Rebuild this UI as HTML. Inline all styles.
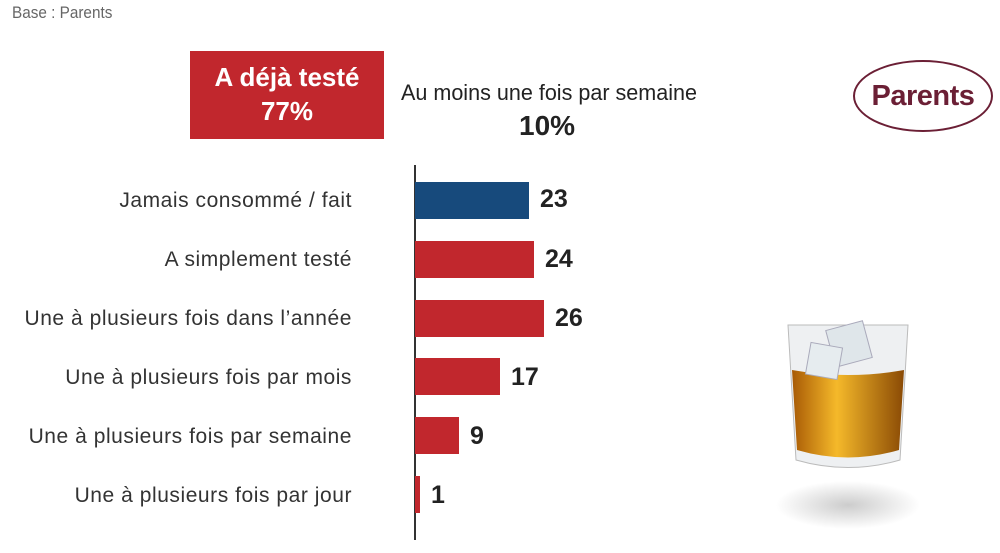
<!DOCTYPE html>
<html><head><meta charset="utf-8"><style>
body{margin:0;width:1000px;height:553px;background:#fff;position:relative;overflow:hidden;font-family:"Liberation Sans",sans-serif}
.a{position:absolute}
.lab{position:absolute;right:648px;font-size:21px;color:#333;white-space:nowrap;letter-spacing:0.55px}
.bar{position:absolute;left:415px;height:37px;background:#c1272d}
.val{position:absolute;font-size:25px;font-weight:bold;color:#222}
</style></head><body>
<div class="a" style="left:12px;top:3px;font-size:17px;color:#666;transform:scaleX(0.9);transform-origin:left">Base : Parents</div>
<div class="a" style="left:190px;top:51px;width:194px;height:88px;background:#c1272d;color:#fff;font-weight:bold;font-size:26px;text-align:center;line-height:34px;padding-top:9px;box-sizing:border-box">A déjà testé<br>77%</div>
<div class="a" style="left:401px;top:80px;font-size:22px;color:#222;transform:scaleX(0.98);transform-origin:left;white-space:nowrap">Au moins une fois par semaine</div>
<div class="a" style="left:519px;top:110px;font-size:28px;font-weight:bold;color:#222">10%</div>
<div class="a" style="left:853px;top:60px;width:136px;height:68px;border:2px solid #6b1f35;border-radius:50%;text-align:center;line-height:68px;font-size:29px;font-weight:bold;color:#6b1f35;letter-spacing:-0.5px">Parents</div>
<div class="a" style="left:414px;top:165px;width:1.5px;height:375px;background:#333"></div>
<div class="lab" style="top:189px">Jamais consommé / fait</div>
<div class="lab" style="top:248px">A simplement testé</div>
<div class="lab" style="top:307px">Une à plusieurs fois dans l’année</div>
<div class="lab" style="top:366px">Une à plusieurs fois par mois</div>
<div class="lab" style="top:425px">Une à plusieurs fois par semaine</div>
<div class="lab" style="top:484px">Une à plusieurs fois par jour</div>
<div class="bar" style="top:182px;width:114px;background:#174a7c"></div>
<div class="bar" style="top:241px;width:119px"></div>
<div class="bar" style="top:300px;width:129px"></div>
<div class="bar" style="top:358px;width:85px"></div>
<div class="bar" style="top:417px;width:44px"></div>
<div class="bar" style="top:476px;width:5px"></div>
<div class="val" style="left:540px;top:185px">23</div>
<div class="val" style="left:545px;top:245px">24</div>
<div class="val" style="left:555px;top:304px">26</div>
<div class="val" style="left:511px;top:363px">17</div>
<div class="val" style="left:470px;top:422px">9</div>
<div class="val" style="left:431px;top:481px">1</div>
<svg class="a" style="left:760px;top:300px" width="170" height="240">
<defs><radialGradient id="s"><stop offset="0" stop-color="#ccc"/><stop offset="1" stop-color="#fff"/></radialGradient>
<linearGradient id="w" x1="0" x2="1"><stop offset="0" stop-color="#a85a05"/><stop offset="0.4" stop-color="#f5b92a"/><stop offset="1" stop-color="#8a4a05"/></linearGradient></defs>
<ellipse cx="88" cy="205" rx="72" ry="24" fill="url(#s)"/>
<path d="M28 25 L36 160 Q88 175 140 160 L148 25 Z" fill="#eef0f2" stroke="#bbb"/>
<path d="M32 70 L37 150 Q88 165 139 150 L144 70 Q88 80 32 70Z" fill="url(#w)"/>
<rect x="70" y="25" width="38" height="38" fill="#dfe6ea" stroke="#aab" transform="rotate(-15 89 44)"/>
<rect x="48" y="45" width="32" height="32" fill="#e6ecef" stroke="#aab" transform="rotate(10 64 61)"/>
</svg>
</body></html>
